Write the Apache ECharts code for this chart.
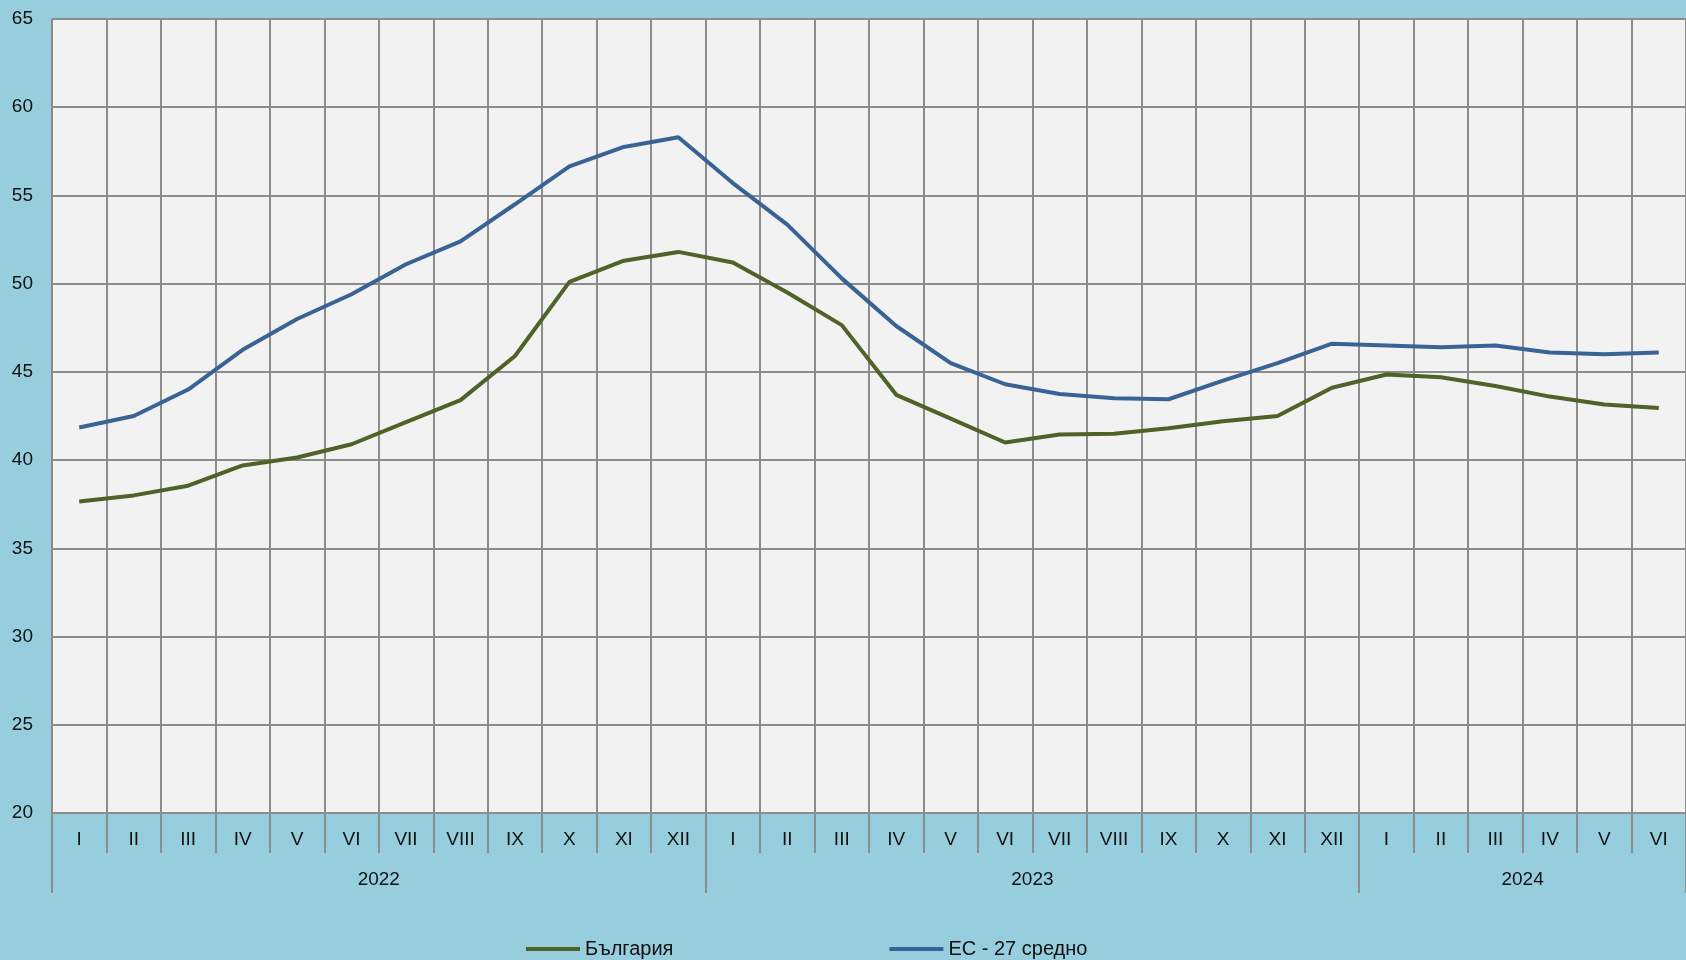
<!DOCTYPE html>
<html>
<head>
<meta charset="utf-8">
<title>България / ЕС - 27 средно</title>
<script src="https://cdn.jsdelivr.net/npm/echarts@6/dist/echarts.min.js"></script>
<style>
  html, body { margin: 0; padding: 0; background: #97CEDE; }
  #chart { width: 1686px; height: 960px; }
</style>
</head>
<body>
<div id="chart"></div>
<script>
// месеци (2022 - 2024)
var months = ['I', 'II', 'III', 'IV', 'V', 'VI', 'VII', 'VIII', 'IX', 'X', 'XI', 'XII',
  'I', 'II', 'III', 'IV', 'V', 'VI', 'VII', 'VIII', 'IX', 'X', 'XI', 'XII',
  'I', 'II', 'III', 'IV', 'V', 'VI']
var years = ['2022', '2023', '2024']
var yearStart = [0, 12, 24, 30]
var yearMid = [6, 18, 27]

var bulgaria = [37.65, 38.0, 38.55, 39.7, 40.15, 40.9, 42.15, 43.4, 45.9, 50.1, 51.3, 51.8,
  51.2, 49.5, 47.65, 43.7, 42.35, 41.0, 41.45, 41.5, 41.8, 42.2, 42.5, 44.1,
  44.85, 44.7, 44.2, 43.6, 43.15, 42.95]
var eu27 = [41.85, 42.5, 44.0, 46.25, 48.0, 49.4, 51.1, 52.4, 54.5, 56.65, 57.75, 58.3,
  55.7, 53.35, 50.3, 47.6, 45.5, 44.3, 43.75, 43.5, 43.45, 44.5, 45.5, 46.6,
  46.5, 46.4, 46.5, 46.1, 46.0, 46.1]

var font = '"Liberation Sans Narrow", "Arial Narrow", "Liberation Sans", sans-serif'
var gridColor = '#8C8C8C'

var myChart = echarts.init(document.getElementById('chart'))
myChart.setOption({
  backgroundColor: '#97CEDE',
  animation: false,
  textStyle: { fontFamily: font },
  grid: {
    left: 52,
    top: 19,
    right: 0,
    bottom: 147,
    show: true,
    backgroundColor: '#F2F2F2',
    borderWidth: 0
  },
  legend: {
    data: ['България', 'ЕС - 27 средно'],
    left: 521,
    top: 934,
    itemGap: 216,
    itemWidth: 54,
    itemHeight: 4,
    icon: 'rect',
    textStyle: { fontFamily: font, fontSize: 20, color: '#111' }
  },
  xAxis: [
    {
      type: 'category',
      data: months,
      boundaryGap: true,
      axisLine: { show: true, lineStyle: { color: gridColor, width: 2 } },
      axisTick: { show: true, interval: 0, length: 40, lineStyle: { color: gridColor, width: 2 } },
      axisLabel: { interval: 0, margin: 17, fontFamily: font, fontSize: 19, color: '#111' },
      splitLine: { show: true, interval: 0, lineStyle: { color: gridColor, width: 2 } }
    },
    {
      // годините отдолу
      type: 'value',
      min: 0,
      max: 30,
      position: 'bottom',
      offset: 40,
      axisLine: { show: false },
      axisTick: { show: true, customValues: yearStart, length: 40, lineStyle: { color: gridColor, width: 2 } },
      axisLabel: {
        customValues: yearMid,
        margin: 17,
        fontFamily: font,
        fontSize: 19,
        color: '#111',
        formatter: function (v) {
          return years[yearMid.indexOf(v)]
        }
      },
      splitLine: { show: false }
    }
  ],
  yAxis: {
    type: 'value',
    min: 20,
    max: 65,
    interval: 5,
    axisLine: { show: false },
    axisTick: { show: false },
    axisLabel: { margin: 19, fontFamily: font, fontSize: 19, color: '#111' },
    splitLine: { show: true, lineStyle: { color: gridColor, width: 2 } }
  },
  series: [
    {
      name: 'България',
      type: 'line',
      data: bulgaria,
      showSymbol: false,
      color: '#4F6228',
      lineStyle: { color: '#4F6228', width: 4 }
    },
    {
      name: 'ЕС - 27 средно',
      type: 'line',
      data: eu27,
      showSymbol: false,
      color: '#3A6395',
      lineStyle: { color: '#3A6395', width: 4 }
    }
  ]
})
</script>
</body>
</html>
